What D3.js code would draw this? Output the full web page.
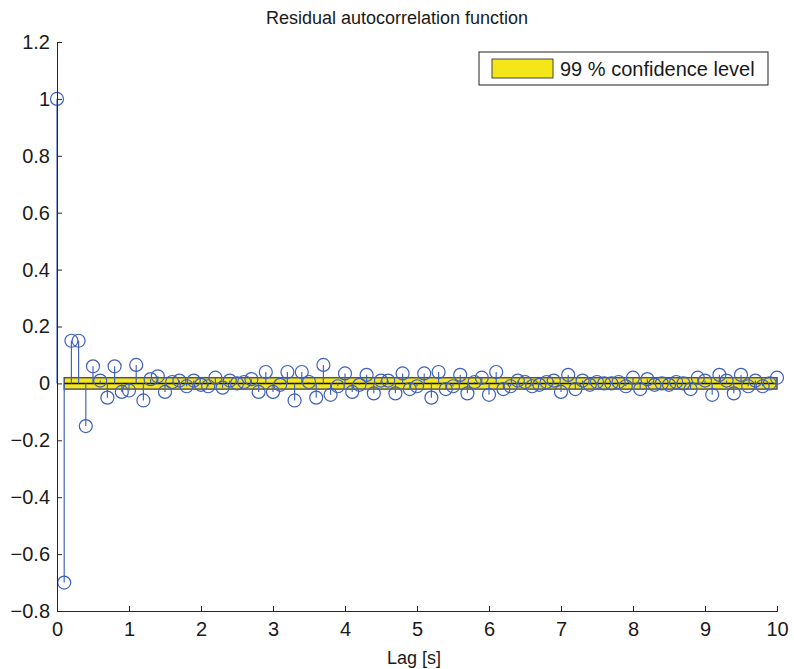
<!DOCTYPE html>
<html>
<head>
<meta charset="utf-8">
<script src="https://cdn.jsdelivr.net/npm/d3@7"></script>
<style>
  body { margin: 0; background: #fff; }
  text { font-family: "Liberation Sans", Arial, sans-serif; fill: #1a1a1a; }
</style>
</head>
<body>
<div id="chart"></div>
<script>
// residual autocorrelation, lag step 0.1 s
var lags = d3.range(0, 101).map(function(i) { return i / 10; });
var acf = [
  1.0, -0.70, 0.15, 0.15, -0.15, 0.06, 0.01, -0.05, 0.06, -0.03,
  -0.025, 0.065, -0.06, 0.015, 0.025, -0.03, 0.005, 0.01, -0.01, 0.01,
  -0.005, -0.01, 0.02, -0.015, 0.01, 0.0, 0.005, 0.015, -0.03, 0.04,
  -0.03, -0.005, 0.04, -0.06, 0.04, 0.005, -0.05, 0.065, -0.04, -0.01,
  0.035, -0.03, -0.005, 0.03, -0.035, 0.01, 0.01, -0.035, 0.035, -0.02,
  -0.01, 0.035, -0.05, 0.04, -0.02, -0.01, 0.03, -0.035, 0.005, 0.02,
  -0.04, 0.04, -0.02, -0.01, 0.01, 0.005, -0.01, -0.005, 0.005, 0.01,
  -0.03, 0.03, -0.02, 0.01, -0.005, 0.005, 0.0, 0.0, 0.005, -0.01,
  0.02, -0.02, 0.015, -0.005, 0.0, -0.005, 0.005, 0.0, -0.02, 0.02,
  0.01, -0.04, 0.03, 0.01, -0.035, 0.03, -0.01, 0.01, -0.01, 0.0,
  0.02
];
var confLevel = 0.02;   // 99 % band half-width
var confRange = [0.1, 10];
var xTicks = d3.range(0, 11);
var yTicks = [-0.8, -0.6, -0.4, -0.2, 0, 0.2, 0.4, 0.6, 0.8, 1, 1.2];

var W = 794, H = 669;
var margin = {top: 42, right: 17, bottom: 58, left: 57};

var svg = d3.select("#chart").append("svg")
  .attr("width", W).attr("height", H);

var x = d3.scaleLinear().domain([0, 10]).range([margin.left, W - margin.right]);
var y = d3.scaleLinear().domain([-0.8, 1.2]).range([H - margin.bottom, margin.top]);

// confidence band
svg.append("rect")
  .attr("x", x(confRange[0]))
  .attr("y", y(confLevel))
  .attr("width", x(confRange[1]) - x(confRange[0]))
  .attr("height", y(-confLevel) - y(confLevel))
  .style("fill", "#f5e61a")
  .style("stroke", "#555")
  .style("stroke-width", 1.5);

// stem baseline
svg.append("line")
  .attr("x1", x(confRange[0])).attr("x2", x(confRange[1]))
  .attr("y1", y(0)).attr("y2", y(0))
  .style("stroke", "#111").style("stroke-width", 1.5);

// stems
svg.append("g").selectAll("line")
  .data(acf)
  .enter().append("line")
    .attr("x1", function(d, i) { return x(lags[i]); })
    .attr("x2", function(d, i) { return x(lags[i]); })
    .attr("y1", y(0))
    .attr("y2", function(d) { return y(d); })
    .style("stroke", "#4564bd")
    .style("stroke-width", 1.2);

// markers
svg.append("g").selectAll("circle")
  .data(acf)
  .enter().append("circle")
    .attr("cx", function(d, i) { return x(lags[i]); })
    .attr("cy", function(d) { return y(d); })
    .attr("r", 6.5)
    .style("fill", "none")
    .style("stroke", "#3f5fbf")
    .style("stroke-width", 1.2);

// axes
var xAxis = svg.append("g")
  .attr("transform", "translate(0," + y(-0.8) + ")")
  .call(d3.axisBottom(x).tickValues(xTicks).tickSize(-5).tickPadding(11).tickFormat(d3.format("d")));
var yAxis = svg.append("g")
  .attr("transform", "translate(" + x(0) + ",0)")
  .call(d3.axisLeft(y).tickValues(yTicks).tickSize(-5).tickPadding(7).tickFormat(function(d) { return d3.format("")(+d.toFixed(1)); }));

[xAxis, yAxis].forEach(function(a) {
  a.select(".domain").style("stroke", "#262626");
  a.selectAll(".tick line").style("stroke", "#262626");
  a.selectAll("text").style("font-size", "20px").style("font-family", "Liberation Sans, Arial, sans-serif").style("fill", "#1a1a1a");
});

// title and label
svg.append("text")
  .attr("x", (x(0) + x(10)) / 2 - 20).attr("y", 24)
  .attr("text-anchor", "middle")
  .style("font-size", "18px")
  .text("Residual autocorrelation function");

svg.append("text")
  .attr("x", (x(0) + x(10)) / 2 - 3).attr("y", 664)
  .attr("text-anchor", "middle")
  .style("font-size", "18px")
  .text("Lag [s]");

// legend
var lg = svg.append("g");
lg.append("rect")
  .attr("x", 479).attr("y", 52).attr("width", 289).attr("height", 33)
  .style("fill", "#fff").style("stroke", "#222").style("stroke-width", 1);
lg.append("rect")
  .attr("x", 492).attr("y", 59).attr("width", 61).attr("height", 19)
  .style("fill", "#f5e61a").style("stroke", "#444").style("stroke-width", 1);
lg.append("text")
  .attr("x", 560).attr("y", 76)
  .style("font-size", "20px")
  .text("99 % confidence level");
</script>
</body>
</html>
